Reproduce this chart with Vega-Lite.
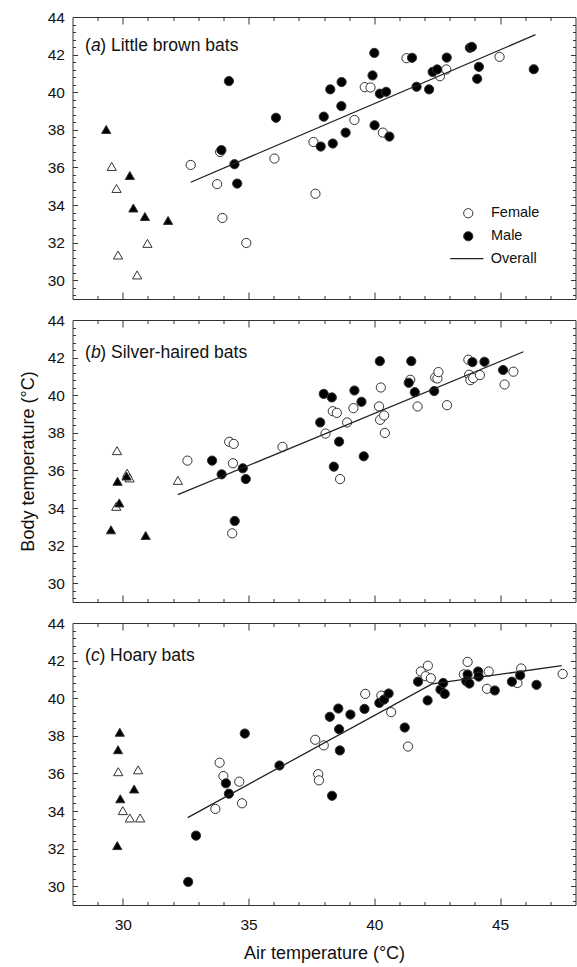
{
"$schema": "https://vega.github.io/schema/vega-lite/v6.json",
"padding": {"left": 18.5, "top": 9, "right": 2, "bottom": 0},
"config": {
  "font": "Liberation Sans",
  "view": {"stroke": "#333", "strokeWidth": 1},
  "axis": {"domain": false, "grid": false, "tickColor": "#333", "tickWidth": 1, "labelFontSize": 15.5, "labelColor": "#111", "titleFontSize": 18, "titleFontWeight": "normal", "titleColor": "#111", "labelFlush": false, "labelOverlap": false}
},
"datasets": {
"pts": [
{"panel":"a","air":29.56,"body":36.05,"sex":"Female","form":"triangle"},
{"panel":"a","air":29.75,"body":34.88,"sex":"Female","form":"triangle"},
{"panel":"a","air":29.81,"body":31.34,"sex":"Female","form":"triangle"},
{"panel":"a","air":30.57,"body":30.28,"sex":"Female","form":"triangle"},
{"panel":"a","air":30.98,"body":31.96,"sex":"Female","form":"triangle"},
{"panel":"a","air":29.34,"body":38.02,"sex":"Male","form":"triangle"},
{"panel":"a","air":30.28,"body":35.57,"sex":"Male","form":"triangle"},
{"panel":"a","air":30.42,"body":33.84,"sex":"Male","form":"triangle"},
{"panel":"a","air":30.88,"body":33.39,"sex":"Male","form":"triangle"},
{"panel":"a","air":31.80,"body":33.18,"sex":"Male","form":"triangle"},
{"panel":"a","air":32.70,"body":36.13,"sex":"Female","form":"circle"},
{"panel":"a","air":33.75,"body":35.11,"sex":"Female","form":"circle"},
{"panel":"a","air":33.87,"body":36.82,"sex":"Female","form":"circle"},
{"panel":"a","air":33.96,"body":33.31,"sex":"Female","form":"circle"},
{"panel":"a","air":34.91,"body":31.98,"sex":"Female","form":"circle"},
{"panel":"a","air":36.03,"body":36.47,"sex":"Female","form":"circle"},
{"panel":"a","air":37.58,"body":37.35,"sex":"Female","form":"circle"},
{"panel":"a","air":37.66,"body":34.60,"sex":"Female","form":"circle"},
{"panel":"a","air":39.21,"body":38.52,"sex":"Female","form":"circle"},
{"panel":"a","air":39.62,"body":40.27,"sex":"Female","form":"circle"},
{"panel":"a","air":39.85,"body":40.25,"sex":"Female","form":"circle"},
{"panel":"a","air":40.34,"body":37.85,"sex":"Female","form":"circle"},
{"panel":"a","air":41.28,"body":41.81,"sex":"Female","form":"circle"},
{"panel":"a","air":42.61,"body":40.85,"sex":"Female","form":"circle"},
{"panel":"a","air":42.86,"body":41.21,"sex":"Female","form":"circle"},
{"panel":"a","air":44.98,"body":41.88,"sex":"Female","form":"circle"},
{"panel":"a","air":33.92,"body":36.92,"sex":"Male","form":"circle"},
{"panel":"a","air":34.22,"body":40.59,"sex":"Male","form":"circle"},
{"panel":"a","air":34.44,"body":36.17,"sex":"Male","form":"circle"},
{"panel":"a","air":34.55,"body":35.14,"sex":"Male","form":"circle"},
{"panel":"a","air":36.09,"body":38.64,"sex":"Male","form":"circle"},
{"panel":"a","air":37.87,"body":37.11,"sex":"Male","form":"circle"},
{"panel":"a","air":37.99,"body":38.70,"sex":"Male","form":"circle"},
{"panel":"a","air":38.25,"body":40.15,"sex":"Male","form":"circle"},
{"panel":"a","air":38.35,"body":37.27,"sex":"Male","form":"circle"},
{"panel":"a","air":38.69,"body":39.26,"sex":"Male","form":"circle"},
{"panel":"a","air":38.70,"body":40.54,"sex":"Male","form":"circle"},
{"panel":"a","air":38.86,"body":37.85,"sex":"Male","form":"circle"},
{"panel":"a","air":39.93,"body":40.89,"sex":"Male","form":"circle"},
{"panel":"a","air":40.00,"body":42.09,"sex":"Male","form":"circle"},
{"panel":"a","air":40.01,"body":38.24,"sex":"Male","form":"circle"},
{"panel":"a","air":40.22,"body":39.92,"sex":"Male","form":"circle"},
{"panel":"a","air":40.47,"body":40.02,"sex":"Male","form":"circle"},
{"panel":"a","air":40.60,"body":37.64,"sex":"Male","form":"circle"},
{"panel":"a","air":41.50,"body":41.83,"sex":"Male","form":"circle"},
{"panel":"a","air":41.68,"body":40.29,"sex":"Male","form":"circle"},
{"panel":"a","air":42.18,"body":40.15,"sex":"Male","form":"circle"},
{"panel":"a","air":42.32,"body":41.08,"sex":"Male","form":"circle"},
{"panel":"a","air":42.50,"body":41.21,"sex":"Male","form":"circle"},
{"panel":"a","air":42.88,"body":41.84,"sex":"Male","form":"circle"},
{"panel":"a","air":43.80,"body":42.36,"sex":"Male","form":"circle"},
{"panel":"a","air":43.88,"body":42.41,"sex":"Male","form":"circle"},
{"panel":"a","air":44.09,"body":40.71,"sex":"Male","form":"circle"},
{"panel":"a","air":44.16,"body":41.35,"sex":"Male","form":"circle"},
{"panel":"a","air":46.34,"body":41.22,"sex":"Male","form":"circle"},

{"panel":"b","air":29.77,"body":37.05,"sex":"Female","form":"triangle"},
{"panel":"b","air":30.17,"body":35.85,"sex":"Female","form":"triangle"},
{"panel":"b","air":30.27,"body":35.60,"sex":"Female","form":"triangle"},
{"panel":"b","air":29.74,"body":34.09,"sex":"Female","form":"triangle"},
{"panel":"b","air":32.19,"body":35.47,"sex":"Female","form":"triangle"},
{"panel":"b","air":29.79,"body":35.42,"sex":"Male","form":"triangle"},
{"panel":"b","air":30.15,"body":35.70,"sex":"Male","form":"triangle"},
{"panel":"b","air":29.86,"body":34.27,"sex":"Male","form":"triangle"},
{"panel":"b","air":29.53,"body":32.84,"sex":"Male","form":"triangle"},
{"panel":"b","air":30.91,"body":32.54,"sex":"Male","form":"triangle"},
{"panel":"b","air":32.57,"body":36.52,"sex":"Female","form":"circle"},
{"panel":"b","air":34.23,"body":37.52,"sex":"Female","form":"circle"},
{"panel":"b","air":34.41,"body":37.41,"sex":"Female","form":"circle"},
{"panel":"b","air":34.38,"body":36.38,"sex":"Female","form":"circle"},
{"panel":"b","air":34.35,"body":32.65,"sex":"Female","form":"circle"},
{"panel":"b","air":36.35,"body":37.25,"sex":"Female","form":"circle"},
{"panel":"b","air":38.06,"body":37.96,"sex":"Female","form":"circle"},
{"panel":"b","air":38.35,"body":39.15,"sex":"Female","form":"circle"},
{"panel":"b","air":38.51,"body":39.06,"sex":"Female","form":"circle"},
{"panel":"b","air":38.92,"body":38.55,"sex":"Female","form":"circle"},
{"panel":"b","air":38.64,"body":35.54,"sex":"Female","form":"circle"},
{"panel":"b","air":39.17,"body":39.31,"sex":"Female","form":"circle"},
{"panel":"b","air":40.19,"body":39.40,"sex":"Female","form":"circle"},
{"panel":"b","air":40.26,"body":40.41,"sex":"Female","form":"circle"},
{"panel":"b","air":40.23,"body":38.69,"sex":"Female","form":"circle"},
{"panel":"b","air":40.39,"body":38.92,"sex":"Female","form":"circle"},
{"panel":"b","air":40.42,"body":37.99,"sex":"Female","form":"circle"},
{"panel":"b","air":41.43,"body":40.82,"sex":"Female","form":"circle"},
{"panel":"b","air":41.72,"body":39.40,"sex":"Female","form":"circle"},
{"panel":"b","air":42.42,"body":40.94,"sex":"Female","form":"circle"},
{"panel":"b","air":42.51,"body":40.89,"sex":"Female","form":"circle"},
{"panel":"b","air":42.55,"body":41.23,"sex":"Female","form":"circle"},
{"panel":"b","air":42.89,"body":39.47,"sex":"Female","form":"circle"},
{"panel":"b","air":43.74,"body":41.89,"sex":"Female","form":"circle"},
{"panel":"b","air":43.77,"body":41.09,"sex":"Female","form":"circle"},
{"panel":"b","air":43.82,"body":40.80,"sex":"Female","form":"circle"},
{"panel":"b","air":43.93,"body":40.91,"sex":"Female","form":"circle"},
{"panel":"b","air":44.20,"body":41.07,"sex":"Female","form":"circle"},
{"panel":"b","air":45.18,"body":40.57,"sex":"Female","form":"circle"},
{"panel":"b","air":45.53,"body":41.25,"sex":"Female","form":"circle"},
{"panel":"b","air":33.55,"body":36.52,"sex":"Male","form":"circle"},
{"panel":"b","air":33.93,"body":35.79,"sex":"Male","form":"circle"},
{"panel":"b","air":34.77,"body":36.11,"sex":"Male","form":"circle"},
{"panel":"b","air":34.89,"body":35.54,"sex":"Male","form":"circle"},
{"panel":"b","air":34.45,"body":33.31,"sex":"Male","form":"circle"},
{"panel":"b","air":37.85,"body":38.55,"sex":"Male","form":"circle"},
{"panel":"b","air":37.99,"body":40.07,"sex":"Male","form":"circle"},
{"panel":"b","air":38.31,"body":39.88,"sex":"Male","form":"circle"},
{"panel":"b","air":38.39,"body":36.20,"sex":"Male","form":"circle"},
{"panel":"b","air":38.60,"body":37.53,"sex":"Male","form":"circle"},
{"panel":"b","air":39.21,"body":40.25,"sex":"Male","form":"circle"},
{"panel":"b","air":39.49,"body":39.65,"sex":"Male","form":"circle"},
{"panel":"b","air":39.58,"body":36.75,"sex":"Male","form":"circle"},
{"panel":"b","air":40.22,"body":41.81,"sex":"Male","form":"circle"},
{"panel":"b","air":41.37,"body":40.66,"sex":"Male","form":"circle"},
{"panel":"b","air":41.47,"body":41.81,"sex":"Male","form":"circle"},
{"panel":"b","air":41.61,"body":40.16,"sex":"Male","form":"circle"},
{"panel":"b","air":42.38,"body":40.22,"sex":"Male","form":"circle"},
{"panel":"b","air":43.90,"body":41.76,"sex":"Male","form":"circle"},
{"panel":"b","air":44.38,"body":41.78,"sex":"Male","form":"circle"},
{"panel":"b","air":45.12,"body":41.34,"sex":"Male","form":"circle"},

{"panel":"c","air":29.82,"body":36.09,"sex":"Female","form":"triangle"},
{"panel":"c","air":30.61,"body":36.19,"sex":"Female","form":"triangle"},
{"panel":"c","air":30.00,"body":34.02,"sex":"Female","form":"triangle"},
{"panel":"c","air":30.28,"body":33.63,"sex":"Female","form":"triangle"},
{"panel":"c","air":30.69,"body":33.63,"sex":"Female","form":"triangle"},
{"panel":"c","air":29.88,"body":38.19,"sex":"Male","form":"triangle"},
{"panel":"c","air":29.81,"body":37.26,"sex":"Male","form":"triangle"},
{"panel":"c","air":29.90,"body":34.65,"sex":"Male","form":"triangle"},
{"panel":"c","air":30.45,"body":35.17,"sex":"Male","form":"triangle"},
{"panel":"c","air":29.78,"body":32.16,"sex":"Male","form":"triangle"},
{"panel":"c","air":33.68,"body":34.11,"sex":"Female","form":"circle"},
{"panel":"c","air":33.85,"body":36.57,"sex":"Female","form":"circle"},
{"panel":"c","air":34.00,"body":35.86,"sex":"Female","form":"circle"},
{"panel":"c","air":34.63,"body":35.56,"sex":"Female","form":"circle"},
{"panel":"c","air":34.74,"body":34.41,"sex":"Female","form":"circle"},
{"panel":"c","air":37.65,"body":37.79,"sex":"Female","form":"circle"},
{"panel":"c","air":37.77,"body":35.96,"sex":"Female","form":"circle"},
{"panel":"c","air":37.80,"body":35.63,"sex":"Female","form":"circle"},
{"panel":"c","air":37.99,"body":37.49,"sex":"Female","form":"circle"},
{"panel":"c","air":39.64,"body":40.23,"sex":"Female","form":"circle"},
{"panel":"c","air":40.28,"body":40.14,"sex":"Female","form":"circle"},
{"panel":"c","air":40.67,"body":39.26,"sex":"Female","form":"circle"},
{"panel":"c","air":41.34,"body":37.43,"sex":"Female","form":"circle"},
{"panel":"c","air":41.85,"body":41.42,"sex":"Female","form":"circle"},
{"panel":"c","air":42.04,"body":41.17,"sex":"Female","form":"circle"},
{"panel":"c","air":42.13,"body":41.73,"sex":"Female","form":"circle"},
{"panel":"c","air":42.25,"body":41.06,"sex":"Female","form":"circle"},
{"panel":"c","air":43.56,"body":41.27,"sex":"Female","form":"circle"},
{"panel":"c","air":43.71,"body":41.93,"sex":"Female","form":"circle"},
{"panel":"c","air":44.55,"body":41.42,"sex":"Female","form":"circle"},
{"panel":"c","air":44.48,"body":40.50,"sex":"Female","form":"circle"},
{"panel":"c","air":45.69,"body":40.81,"sex":"Female","form":"circle"},
{"panel":"c","air":45.84,"body":41.58,"sex":"Female","form":"circle"},
{"panel":"c","air":47.49,"body":41.29,"sex":"Female","form":"circle"},
{"panel":"c","air":32.60,"body":30.23,"sex":"Male","form":"circle"},
{"panel":"c","air":32.91,"body":32.69,"sex":"Male","form":"circle"},
{"panel":"c","air":34.10,"body":35.47,"sex":"Male","form":"circle"},
{"panel":"c","air":34.22,"body":34.92,"sex":"Male","form":"circle"},
{"panel":"c","air":34.85,"body":38.12,"sex":"Male","form":"circle"},
{"panel":"c","air":36.23,"body":36.42,"sex":"Male","form":"circle"},
{"panel":"c","air":38.23,"body":39.01,"sex":"Male","form":"circle"},
{"panel":"c","air":38.32,"body":34.81,"sex":"Male","form":"circle"},
{"panel":"c","air":38.57,"body":39.45,"sex":"Male","form":"circle"},
{"panel":"c","air":38.60,"body":38.35,"sex":"Male","form":"circle"},
{"panel":"c","air":38.63,"body":37.22,"sex":"Male","form":"circle"},
{"panel":"c","air":39.05,"body":39.13,"sex":"Male","form":"circle"},
{"panel":"c","air":39.61,"body":39.43,"sex":"Male","form":"circle"},
{"panel":"c","air":40.20,"body":39.75,"sex":"Male","form":"circle"},
{"panel":"c","air":40.39,"body":39.93,"sex":"Male","form":"circle"},
{"panel":"c","air":40.57,"body":40.25,"sex":"Male","form":"circle"},
{"panel":"c","air":41.21,"body":38.44,"sex":"Male","form":"circle"},
{"panel":"c","air":41.74,"body":40.88,"sex":"Male","form":"circle"},
{"panel":"c","air":42.12,"body":39.88,"sex":"Male","form":"circle"},
{"panel":"c","air":42.63,"body":40.46,"sex":"Male","form":"circle"},
{"panel":"c","air":42.74,"body":40.81,"sex":"Male","form":"circle"},
{"panel":"c","air":42.80,"body":40.23,"sex":"Male","form":"circle"},
{"panel":"c","air":43.71,"body":41.26,"sex":"Male","form":"circle"},
{"panel":"c","air":43.66,"body":40.90,"sex":"Male","form":"circle"},
{"panel":"c","air":43.78,"body":40.78,"sex":"Male","form":"circle"},
{"panel":"c","air":44.13,"body":41.42,"sex":"Male","form":"circle"},
{"panel":"c","air":44.15,"body":41.15,"sex":"Male","form":"circle"},
{"panel":"c","air":44.79,"body":40.41,"sex":"Male","form":"circle"},
{"panel":"c","air":45.47,"body":40.88,"sex":"Male","form":"circle"},
{"panel":"c","air":45.80,"body":41.22,"sex":"Male","form":"circle"},
{"panel":"c","air":46.45,"body":40.71,"sex":"Male","form":"circle"}
],
"fit": [
{"panel":"a","air":32.70,"body":35.21,"series":"Overall"},
{"panel":"a","air":46.41,"body":43.06,"series":"Overall"},
{"panel":"b","air":32.19,"body":34.71,"series":"Overall"},
{"panel":"b","air":45.93,"body":42.31,"series":"Overall"},
{"panel":"c","air":32.58,"body":33.65,"series":"Overall"},
{"panel":"c","air":42.30,"body":40.76,"series":"Overall"},
{"panel":"c","air":47.45,"body":41.73,"series":"Overall"}
],
"labels": [
{"panel":"a","letter":"a","name":") Little brown bats"},
{"panel":"b","letter":"b","name":") Silver-haired bats"},
{"panel":"c","letter":"c","name":") Hoary bats"}
]
},
"spacing": 21,
"bounds": "flush",
"resolve": {"scale": {"fill": "independent", "shape": "independent", "stroke": "independent"}},
"vconcat": [
{
 "width": 503, "height": 282,
 "resolve": {"axis": {"x": "independent", "y": "independent"}},
 "layer": [
  {
   "data": {"name": "pts"},
   "transform": [{"filter": "datum.panel === 'a'"}],
   "mark": {"type": "point", "size": 85, "strokeWidth": 1, "stroke": "#333", "opacity": 1},
   "encoding": {
    "x": {"field": "air", "type": "quantitative", "scale": {"domain": [28, 48], "nice": false, "zero": false},
      "axis": {"orient": "bottom", "values": [29,30,31,32,33,34,35,36,37,38,39,40,41,42,43,44,45,46,47], "labels": false, "title": null, "tickSize": {"condition": {"test": "datum.value % 5 === 0", "value": -7}, "value": -3.5}}},
    "y": {"field": "body", "type": "quantitative", "scale": {"domain": [29, 44], "nice": false, "zero": false},
      "axis": {"orient": "left", "values": [29.2,29.6,30,30.4,30.8,31.2,31.6,32,32.4,32.8,33.2,33.6,34,34.4,34.8,35.2,35.6,36,36.4,36.8,37.2,37.6,38,38.4,38.8,39.2,39.6,40,40.4,40.8,41.2,41.6,42,42.4,42.8,43.2,43.6,44], "labelExpr": "datum.value % 2 === 0 ? format(datum.value, 'd') : ''", "labelPadding": 13, "title": null, "tickSize": {"condition": {"test": "datum.value % 2 === 0", "value": -5}, "value": -3}}},
    "shape": {"field": "form", "type": "nominal", "scale": {"domain": ["circle", "triangle"], "range": ["circle", "triangle-up"]}, "legend": null},
    "fill": {"field": "sex", "type": "nominal", "scale": {"domain": ["Female", "Male"], "range": ["white", "black"]},
      "legend": {"orient": "none", "legendX": 388.5, "legendY": 189, "title": null, "symbolType": "circle", "symbolSize": 85, "symbolStrokeColor": "#333", "symbolStrokeWidth": 1, "labelFontSize": 14.5, "labelColor": "#111", "labelOffset": 15.5, "rowPadding": 8}}
   }
  },
  {
   "data": {"name": "fit"},
   "transform": [{"filter": "datum.panel === 'a'"}],
   "mark": {"type": "line", "strokeWidth": 1.3},
   "encoding": {
    "x": {"field": "air", "type": "quantitative", "axis": {"orient": "top", "values": [29,30,31,32,33,34,35,36,37,38,39,40,41,42,43,44,45,46,47], "labels": false, "title": null, "tickSize": {"condition": {"test": "datum.value % 5 === 0", "value": -7}, "value": -3.5}}},
    "y": {"field": "body", "type": "quantitative", "axis": {"orient": "right", "values": [29.2,29.6,30,30.4,30.8,31.2,31.6,32,32.4,32.8,33.2,33.6,34,34.4,34.8,35.2,35.6,36,36.4,36.8,37.2,37.6,38,38.4,38.8,39.2,39.6,40,40.4,40.8,41.2,41.6,42,42.4,42.8,43.2,43.6,44], "labels": false, "title": null, "tickSize": {"condition": {"test": "datum.value % 2 === 0", "value": -5}, "value": -3}}},
    "stroke": {"field": "series", "type": "nominal", "scale": {"domain": ["Overall"], "range": ["#222"]},
      "legend": {"orient": "none", "legendX": 376.8, "legendY": 224.2, "title": null, "symbolType": "stroke", "symbolSize": 1100, "symbolStrokeWidth": 1.3, "labelFontSize": 14.5, "labelColor": "#111", "labelOffset": 6.4}}
   }
  },
  {
   "data": {"name": "labels"},
   "transform": [{"filter": "datum.panel === 'a'"}],
   "layer": [
    {"mark": {"type": "text", "text": "(", "align": "left", "baseline": "alphabetic", "fontSize": 17.5, "color": "#111"}},
    {"mark": {"type": "text", "align": "left", "baseline": "alphabetic", "fontSize": 17.5, "fontStyle": "italic", "dx": 5.8, "color": "#111"}, "encoding": {"text": {"field": "letter"}}},
    {"mark": {"type": "text", "align": "left", "baseline": "alphabetic", "fontSize": 17.5, "dx": 15.2, "color": "#111"}, "encoding": {"text": {"field": "name"}}}
   ],
   "encoding": {"x": {"datum": 28.5, "type": "quantitative", "axis": null}, "y": {"datum": 42.2, "type": "quantitative", "axis": null}}
  }
 ]
},
{
 "width": 503, "height": 282,
 "resolve": {"axis": {"x": "independent", "y": "independent"}},
 "layer": [
  {
   "data": {"name": "pts"},
   "transform": [{"filter": "datum.panel === 'b'"}],
   "mark": {"type": "point", "size": 85, "strokeWidth": 1, "stroke": "#333", "opacity": 1},
   "encoding": {
    "x": {"field": "air", "type": "quantitative", "scale": {"domain": [28, 48], "nice": false, "zero": false},
      "axis": {"orient": "bottom", "values": [29,30,31,32,33,34,35,36,37,38,39,40,41,42,43,44,45,46,47], "labels": false, "title": null, "tickSize": {"condition": {"test": "datum.value % 5 === 0", "value": -7}, "value": -3.5}}},
    "y": {"field": "body", "type": "quantitative", "scale": {"domain": [29, 44], "nice": false, "zero": false},
      "axis": {"orient": "left", "values": [29.2,29.6,30,30.4,30.8,31.2,31.6,32,32.4,32.8,33.2,33.6,34,34.4,34.8,35.2,35.6,36,36.4,36.8,37.2,37.6,38,38.4,38.8,39.2,39.6,40,40.4,40.8,41.2,41.6,42,42.4,42.8,43.2,43.6,44], "labelExpr": "datum.value % 2 === 0 ? format(datum.value, 'd') : ''", "labelPadding": 13, "title": "Body temperature (°C)", "titlePadding": 10, "tickSize": {"condition": {"test": "datum.value % 2 === 0", "value": -5}, "value": -3}}},
    "shape": {"field": "form", "type": "nominal", "scale": {"domain": ["circle", "triangle"], "range": ["circle", "triangle-up"]}, "legend": null},
    "fill": {"field": "sex", "type": "nominal", "scale": {"domain": ["Female", "Male"], "range": ["white", "black"]}, "legend": null}
   }
  },
  {
   "data": {"name": "fit"},
   "transform": [{"filter": "datum.panel === 'b'"}],
   "mark": {"type": "line", "color": "#222", "strokeWidth": 1.3},
   "encoding": {
    "x": {"field": "air", "type": "quantitative", "axis": {"orient": "top", "values": [29,30,31,32,33,34,35,36,37,38,39,40,41,42,43,44,45,46,47], "labels": false, "title": null, "tickSize": {"condition": {"test": "datum.value % 5 === 0", "value": -7}, "value": -3.5}}},
    "y": {"field": "body", "type": "quantitative", "axis": {"orient": "right", "values": [29.2,29.6,30,30.4,30.8,31.2,31.6,32,32.4,32.8,33.2,33.6,34,34.4,34.8,35.2,35.6,36,36.4,36.8,37.2,37.6,38,38.4,38.8,39.2,39.6,40,40.4,40.8,41.2,41.6,42,42.4,42.8,43.2,43.6,44], "labels": false, "title": null, "tickSize": {"condition": {"test": "datum.value % 2 === 0", "value": -5}, "value": -3}}}
   }
  },
  {
   "data": {"name": "labels"},
   "transform": [{"filter": "datum.panel === 'b'"}],
   "layer": [
    {"mark": {"type": "text", "text": "(", "align": "left", "baseline": "alphabetic", "fontSize": 17.5, "color": "#111"}},
    {"mark": {"type": "text", "align": "left", "baseline": "alphabetic", "fontSize": 17.5, "fontStyle": "italic", "dx": 5.8, "color": "#111"}, "encoding": {"text": {"field": "letter"}}},
    {"mark": {"type": "text", "align": "left", "baseline": "alphabetic", "fontSize": 17.5, "dx": 15.2, "color": "#111"}, "encoding": {"text": {"field": "name"}}}
   ],
   "encoding": {"x": {"datum": 28.5, "type": "quantitative", "axis": null}, "y": {"datum": 42.0, "type": "quantitative", "axis": null}}
  }
 ]
},
{
 "width": 503, "height": 282,
 "resolve": {"axis": {"x": "independent", "y": "independent"}},
 "layer": [
  {
   "data": {"name": "pts"},
   "transform": [{"filter": "datum.panel === 'c'"}],
   "mark": {"type": "point", "size": 85, "strokeWidth": 1, "stroke": "#333", "opacity": 1},
   "encoding": {
    "x": {"field": "air", "type": "quantitative", "scale": {"domain": [28, 48], "nice": false, "zero": false},
      "axis": {"orient": "bottom", "values": [29,30,31,32,33,34,35,36,37,38,39,40,41,42,43,44,45,46,47], "labelExpr": "datum.value % 5 === 0 ? format(datum.value, 'd') : ''", "labelPadding": 19.5, "title": "Air temperature (°C)", "titlePadding": 8, "tickSize": {"condition": {"test": "datum.value % 5 === 0", "value": -7}, "value": -3.5}}},
    "y": {"field": "body", "type": "quantitative", "scale": {"domain": [29, 44], "nice": false, "zero": false},
      "axis": {"orient": "left", "values": [29.2,29.6,30,30.4,30.8,31.2,31.6,32,32.4,32.8,33.2,33.6,34,34.4,34.8,35.2,35.6,36,36.4,36.8,37.2,37.6,38,38.4,38.8,39.2,39.6,40,40.4,40.8,41.2,41.6,42,42.4,42.8,43.2,43.6,44], "labelExpr": "datum.value % 2 === 0 ? format(datum.value, 'd') : ''", "labelPadding": 13, "title": null, "tickSize": {"condition": {"test": "datum.value % 2 === 0", "value": -5}, "value": -3}}},
    "shape": {"field": "form", "type": "nominal", "scale": {"domain": ["circle", "triangle"], "range": ["circle", "triangle-up"]}, "legend": null},
    "fill": {"field": "sex", "type": "nominal", "scale": {"domain": ["Female", "Male"], "range": ["white", "black"]}, "legend": null}
   }
  },
  {
   "data": {"name": "fit"},
   "transform": [{"filter": "datum.panel === 'c'"}],
   "mark": {"type": "line", "color": "#222", "strokeWidth": 1.3},
   "encoding": {
    "x": {"field": "air", "type": "quantitative", "axis": {"orient": "top", "values": [29,30,31,32,33,34,35,36,37,38,39,40,41,42,43,44,45,46,47], "labels": false, "title": null, "tickSize": {"condition": {"test": "datum.value % 5 === 0", "value": -7}, "value": -3.5}}},
    "y": {"field": "body", "type": "quantitative", "axis": {"orient": "right", "values": [29.2,29.6,30,30.4,30.8,31.2,31.6,32,32.4,32.8,33.2,33.6,34,34.4,34.8,35.2,35.6,36,36.4,36.8,37.2,37.6,38,38.4,38.8,39.2,39.6,40,40.4,40.8,41.2,41.6,42,42.4,42.8,43.2,43.6,44], "labels": false, "title": null, "tickSize": {"condition": {"test": "datum.value % 2 === 0", "value": -5}, "value": -3}}}
   }
  },
  {
   "data": {"name": "labels"},
   "transform": [{"filter": "datum.panel === 'c'"}],
   "layer": [
    {"mark": {"type": "text", "text": "(", "align": "left", "baseline": "alphabetic", "fontSize": 17.5, "color": "#111"}},
    {"mark": {"type": "text", "align": "left", "baseline": "alphabetic", "fontSize": 17.5, "fontStyle": "italic", "dx": 5.8, "color": "#111"}, "encoding": {"text": {"field": "letter"}}},
    {"mark": {"type": "text", "align": "left", "baseline": "alphabetic", "fontSize": 17.5, "dx": 14.3, "color": "#111"}, "encoding": {"text": {"field": "name"}}}
   ],
   "encoding": {"x": {"datum": 28.5, "type": "quantitative", "axis": null}, "y": {"datum": 42.0, "type": "quantitative", "axis": null}}
  }
 ]
}
]
}
